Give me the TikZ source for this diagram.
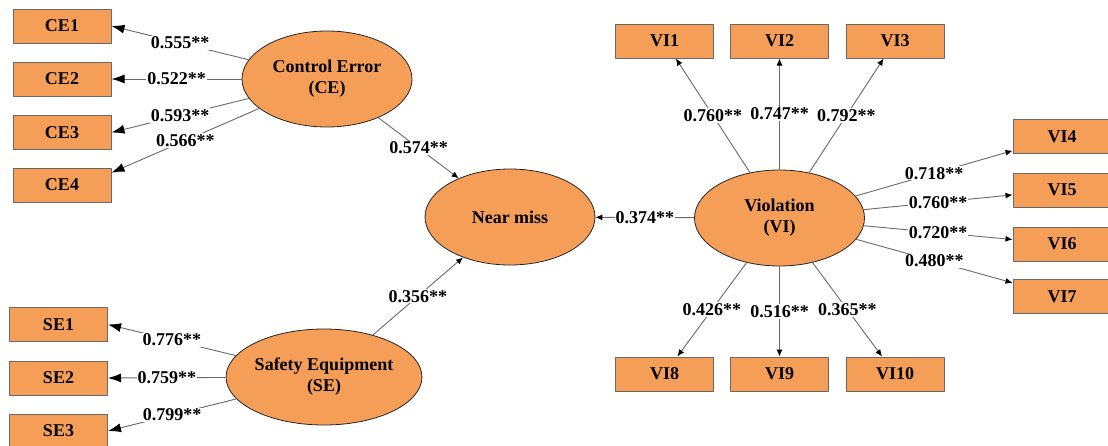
\documentclass[tikz,border=0pt]{standalone}
\usepackage{fontspec}
\setmainfont{Liberation Serif}
\usetikzlibrary{arrows.meta,shapes.geometric}
\definecolor{boxorange}{RGB}{245,158,88}
\definecolor{linegray}{RGB}{105,105,105}
\begin{document}
\begin{tikzpicture}[x=1pt, y=-1pt, font=\fontsize{18}{21}\selectfont\bfseries, line join=round,
    item/.style={draw=linegray, line width=1pt, fill=boxorange, minimum width=98pt, minimum height=34pt, inner sep=0pt},
    latent/.style={ellipse, draw=black!85, line width=0.8pt, fill=boxorange, minimum width=170pt, minimum height=96pt, inner sep=0pt, align=center},
    bigload/.style={draw=linegray, line width=0.9pt, -{Latex[length=13pt,width=9pt,black]}},
    load/.style={draw=linegray, line width=0.9pt, -{Latex[length=7pt,width=6pt,black]}},
    coef/.style={midway, fill=white, inner sep=1pt}]
    \useasboundingbox (0,0) rectangle (1108,445);
    \clip (0,0) rectangle (1108,445);
    % latent variables
    \node[latent] (CE) at (327,79) {Control Error\\(CE)};
    \node[latent] (SE) at (324,377) {Safety Equipment\\(SE)};
    \node[latent] (NM) at (510,217) {Near miss};
    \node[latent] (VI) at (779.5,218) {Violation\\(VI)};
    % indicators
    \foreach \i/\y in {1/26,2/79,3/132.5,4/185} \node[item] (CE\i) at (62,\y) {CE\i};
    \foreach \i/\y in {1/324.5,2/378,3/431} \node[item] (SE\i) at (58.5,\y) {SE\i};
    \foreach \i/\x in {1/664.5,2/779.5,3/895} \node[item] (VI\i) at (\x,41) {VI\i};
    \foreach \i/\y in {4/136.5,5/190,6/244,7/296.5} \node[item] (VI\i) at (1062,\y) {VI\i};
    \foreach \i/\x in {8/664.5,9/779.5,10/895} \node[item] (VI\i) at (\x,374) {VI\i};
    % loadings
    \foreach \t/\a/\v in {CE1/east/0.555, CE2/east/0.522, CE3/east/0.593, CE4/14/0.566}
        \draw[bigload] (CE) -- (\t.\a) node[coef]{\v**};
    \foreach \t/\v in {SE1/0.776, SE2/0.759, SE3/0.799}
        \draw[bigload] (SE) -- (\t.east) node[coef]{\v**};
    \foreach \i/\v in {1/0.760,2/0.747,3/0.792,4/0.718,5/0.760,6/0.720,7/0.480,8/0.426,9/0.516,10/0.365}
        \draw[load] (VI) -- (VI\i) node[coef]{\v**};
    % paths to near miss
    \draw[load] (CE) -- (NM) node[coef]{0.574**};
    \draw[load] (SE) -- (NM) node[coef]{0.356**};
    \draw[load] (VI) -- (NM) node[coef]{0.374**};
\end{tikzpicture}
\end{document}
